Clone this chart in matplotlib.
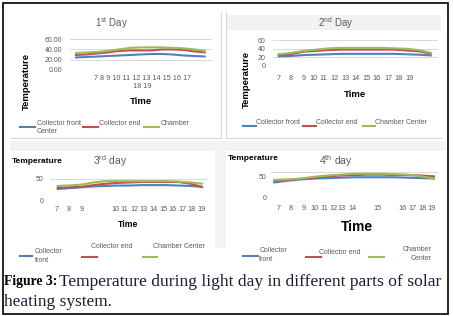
import matplotlib
matplotlib.use("Agg")
import matplotlib.pyplot as plt
from matplotlib.patches import Rectangle
from matplotlib.lines import Line2D
from matplotlib.transforms import ScaledTranslation

# ---------------- data ----------------
hours = [7, 8, 9, 10, 11, 12, 13, 14, 15, 16, 17, 18, 19]
series_names = ["Collector front", "Collector end", "Chamber Center"]

day1_front = [24, 25, 26, 27, 28, 29, 30, 31, 31, 30, 28, 27, 26]
day1_end = [29, 30, 32, 34, 37, 38, 38, 38, 40, 40, 39, 36, 34]
day1_center = [33, 34, 35, 37, 40, 43, 44, 44, 44, 43, 42, 40, 37]

day2_front = [22, 23, 25, 26, 27, 28, 28, 28, 28, 28, 27, 26, 24]
day2_end = [25, 27, 33, 35, 37, 38, 38, 38, 38, 38, 36, 34, 28]
day2_center = [27, 30, 35, 38, 41, 42, 42, 42, 42, 41, 40, 37, 30]

day3_front = [26, 28, 30, 32, 33, 34, 34, 35, 35, 35, 34, 33, 31]
day3_end = [29, 30, 31, 35, 38, 40, 41, 42, 42, 42, 42, 38, 30]
day3_center = [33, 34, 36, 41, 44, 44, 44, 44, 44, 44, 43, 41, 38]

day4_front = [26, 30, 33, 35, 36, 37, 38, 38, 38, 38, 37, 36, 35]
day4_end = [30, 32, 34, 37, 40, 42, 43, 44, 44, 43, 43, 42, 40]
day4_center = [32, 33, 35, 39, 42, 44, 46, 46, 46, 45, 44, 40, 35]

colors = ["#4F81BD", "#C0504D", "#9BBB59"]
GRAY = "#595959"
SANS = ["Liberation Sans", "DejaVu Sans"]
SERIF = ["Liberation Serif", "DejaVu Serif"]

W, H = 453, 316
fig = plt.figure(figsize=(W / 100, H / 100), dpi=100)
fig.patch.set_facecolor("white")


def fx(x):
    return x / W


def fy(y):
    return 1 - y / H


def txt(x, y, s, size=5, color=GRAY, ha="center", va="center", weight="normal", rot=0, family=SANS):
    fig.text(fx(x), fy(y), s, fontsize=size, color=color, ha=ha, va=va,
             fontweight=weight, rotation=rot, family=family)


def rect(x0, y0, x1, y1, color):
    fig.patches.append(Rectangle((fx(x0), fy(y1)), (x1 - x0) / W, (y1 - y0) / H,
                                 transform=fig.transFigure, facecolor=color,
                                 edgecolor="none", zorder=0))


def seg(x0, y0, x1, y1, color="#d9d9d9", lw=0.8):
    fig.add_artist(Line2D([fx(x0), fx(x1)], [fy(y0), fy(y1)], transform=fig.transFigure,
                          color=color, lw=lw, zorder=0.5))


# ---------------- background ----------------
rect(10, 141, 446, 151, "#f3f3f3")
rect(215, 141, 226, 248, "#f3f3f3")
rect(227, 15, 441, 30, "#f2f2f2")
seg(220.5, 12, 220.5, 138)
seg(10, 137.5, 221, 137.5)
seg(225.5, 12, 225.5, 138)
seg(226, 137.5, 441, 137.5)


def make_axes(x0, x1, ytop, ybot, xlim, ylim, yticks, ylabels, pad, yshift=0):
    ax = fig.add_axes([fx(x0), fy(ybot), (x1 - x0) / W, (ybot - ytop) / H])
    ax.set_facecolor("none")
    ax.set_xlim(*xlim)
    ax.set_ylim(*ylim)
    ax.set_xticks([])
    ax.set_yticks(yticks)
    ax.set_yticklabels(ylabels, fontsize=5, color=GRAY, family=SANS)
    ax.tick_params(length=0, pad=pad)
    for s in ax.spines.values():
        s.set_visible(False)
    ax.grid(axis="y", color="#d9d9d9", lw=0.7)
    ax.set_axisbelow(True)
    if yshift:
        off = ScaledTranslation(0, -yshift / 100, fig.dpi_scale_trans)
        for lab in ax.get_yticklabels():
            lab.set_transform(lab.get_transform() + off)
    return ax


def plot_day(ax, data):
    x = list(range(len(hours)))
    for vals, c in zip(data, colors):
        ax.plot(x, vals, color=c, lw=1.5, solid_capstyle="butt")


# ---------------- Panel 1 ----------------
ax1 = make_axes(70, 212, 39.3, 69.7, (-0.46, 12.58), (0, 60), [0, 20, 40, 60],
                ["0.00", "20.00", "40.00", "60.00"], 5.8)
plot_day(ax1, [day1_front, day1_end, day1_center])
txt(112, 23.5, r"1$^{\mathregular{st}}$ Day", size=7)
txt(142.2, 78, " ".join(str(h) for h in hours[:11]), size=5.2)
txt(142.5, 86, " ".join(str(h) for h in hours[11:]), size=5.2)
txt(26.7, 81, "Temperature", size=6.8, color="black", weight="bold", rot=90)
txt(141, 101.7, "Time", size=6.8, color="black", weight="bold")
seg(20, 126.7, 35, 126.7, colors[0], 1.5)
seg(82.7, 126.7, 98.3, 126.7, colors[1], 1.5)
seg(144.3, 126.7, 159.3, 126.7, colors[2], 1.5)
txt(37, 123.3, series_names[0], size=5, ha="left")
txt(37, 131.7, "Center", size=5, ha="left")
txt(99.3, 123.3, series_names[1], size=5, ha="left")
txt(161, 123.3, "Chamber", size=5, ha="left")

# ---------------- Panel 2 ----------------
ax2 = make_axes(272.7, 437.7, 40.3, 65.7, (-0.39, 12.47), (0, 60), [0, 20, 40, 60],
                ["0", "20", "40", "60"], 5)
plot_day(ax2, [day2_front, day2_end, day2_center])
txt(336, 23.5, r"2$^{\mathregular{nd}}$ Day", size=7)
p2 = [278.3, 291, 303.7, 313, 323.7, 334.3, 345, 355.7, 366.3, 377, 388, 398.7, 409.3]
for h, xp in zip(hours, p2):
    txt(xp, 78.3, str(h), size=5.2)
txt(246, 80, "Temperature", size=6.8, color="black", weight="bold", rot=90)
txt(354.8, 94.3, "Time", size=6.8, color="black", weight="bold")
seg(243, 126, 256, 126, colors[0], 1.5)
seg(302.7, 126, 316, 126, colors[1], 1.5)
seg(362.7, 126, 375, 126, colors[2], 1.5)
txt(256, 122.3, series_names[0], size=5, ha="left")
txt(316, 122.3, series_names[1], size=5, ha="left")
txt(375, 122.3, series_names[2], size=5, ha="left")

# ---------------- Panel 3 ----------------
ax3 = make_axes(50, 208, 178.5, 200.5, (-0.55, 12.41), (0, 50), [0, 50],
                ["0", "50"], 4.8)
plot_day(ax3, [day3_front, day3_end, day3_center])
txt(110.5, 161.3, r"3$^{\mathregular{rd}}$ day", size=7.5)
txt(11.7, 161.3, "Temperature", size=6, color="black", weight="bold", ha="left")
p3 = [56.7, 68.3, 81.7, 115, 124.6, 134.2, 143.8, 153.4, 163, 172.6, 182.2, 191.8, 201.4]
for h, xp in zip(hours, p3):
    txt(xp, 209.7, str(h), size=5.2)
txt(127.8, 224.7, "Time", size=6.2, color="black", weight="bold")
seg(20, 256.3, 31.7, 256.3, colors[0], 1.5)
seg(81.7, 257.3, 96.7, 257.3, colors[1], 1.5)
seg(143.3, 257.3, 156.7, 257.3, colors[2], 1.5)
txt(35, 251.3, "Collector", size=5, ha="left")
txt(35, 260.3, "front", size=5, ha="left")
txt(111.7, 247, series_names[1], size=5)
txt(179, 247, series_names[2], size=5)

# ---------------- Panel 4 ----------------
ax4 = make_axes(271, 437.7, 172, 194, (-0.17, 12.2), (0, 50), [0, 50],
                ["0", "50"], 3, yshift=4)
plot_day(ax4, [day4_front, day4_end, day4_center])
txt(336, 161.3, r"4$^{\mathregular{th}}$ day", size=7.5)
txt(227.7, 158, "Temperature", size=6, color="black", weight="bold", ha="left")
p4 = [278.3, 291, 303.7, 314.3, 324.3, 333.3, 341, 352.7, 377.7, 402.7, 412.7, 422.7, 432]
for h, xp in zip(hours, p4):
    txt(xp, 209, str(h), size=5.2)
txt(356.8, 227.3, "Time", size=10, color="black", weight="bold")
seg(242.7, 255.7, 257.7, 255.7, colors[0], 1.5)
seg(306, 257.3, 321, 257.3, colors[1], 1.5)
seg(369.3, 257.3, 384.3, 257.3, colors[2], 1.5)
txt(259.3, 250.7, "Collector", size=5, ha="left")
txt(259.3, 259.7, "front", size=5, ha="left")
txt(319.3, 252, series_names[1], size=5, ha="left")
txt(431.7, 249.7, "Chamber", size=5, ha="right")
txt(431.7, 258.7, "Center", size=5, ha="right")

# ---------------- caption & border ----------------
txt(4, 281.7, "Figure 3:", size=9.8, color="black", weight="bold", ha="left", family=SERIF)
txt(59.3, 281.7, "Temperature during light day in different parts of solar", size=12.6,
    color="#1c1c3a", ha="left", family=SERIF)
txt(4, 301.7, "heating system.", size=12.4, color="#1c1c3a", ha="left", family=SERIF)

fig.patches.append(Rectangle((fx(2.5), fy(313.5)), (448 - 2.5) / W, (313.5 - 2.5) / H,
                             transform=fig.transFigure, facecolor="none",
                             edgecolor="black", lw=1.2, zorder=5))

fig.savefig("out.png", dpi=100, facecolor="white")
